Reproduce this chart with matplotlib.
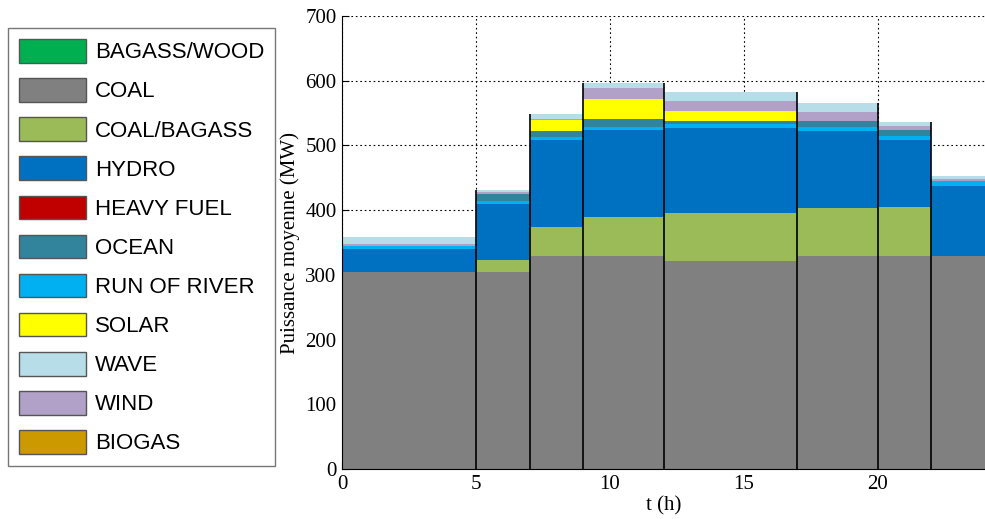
import matplotlib
matplotlib.use("Agg")
import matplotlib.pyplot as plt
import numpy as np
from matplotlib.patches import Patch

# Time blocks (h) and average power per source (MW) in each block
edges = [0, 5, 7, 9, 12, 17, 20, 22, 24]

coal        = [305.0, 305.0, 329.7, 329.7, 321.5, 329.7, 329.7, 329.7]
coal_bagass = [0.0, 18.0, 44.8, 60.3, 74.5, 73.3, 75.7, 0.0]
hydro       = [35.0, 86.6, 134.0, 134.0, 131.5, 119.9, 103.1, 108.2]
run_river   = [5.0, 5.1, 5.0, 5.0, 5.2, 6.1, 6.1, 7.2]
ocean       = [0.0, 10.3, 8.8, 11.4, 5.6, 9.3, 9.3, 0.0]
solar       = [0.0, 0.0, 17.0, 31.0, 15.4, 0.0, 0.0, 0.0]
wind        = [2.8, 3.6, 1.0, 17.0, 15.5, 12.9, 6.7, 3.1]
wave        = [11.2, 2.6, 8.6, 7.7, 12.8, 14.0, 5.2, 5.1]
bagass_wood = [0.0] * 8
heavy_fuel  = [0.0] * 8
biogas      = [0.0] * 8

legend_labels = ["BAGASS/WOOD", "COAL", "COAL/BAGASS", "HYDRO", "HEAVY FUEL",
                 "OCEAN", "RUN OF RIVER", "SOLAR", "WAVE", "WIND", "BIOGAS"]
legend_colors = ["#00B050", "#808080", "#9BBB59", "#0070C0", "#C00000",
                 "#31849B", "#00B0F0", "#FFFF00", "#B7DEE8", "#B1A0C7", "#CC9900"]
colors = dict(zip(legend_labels, legend_colors))

# stacking order, bottom to top
stack = [("BAGASS/WOOD", bagass_wood), ("COAL", coal), ("COAL/BAGASS", coal_bagass),
         ("HYDRO", hydro), ("HEAVY FUEL", heavy_fuel), ("RUN OF RIVER", run_river),
         ("OCEAN", ocean), ("SOLAR", solar), ("WIND", wind), ("WAVE", wave),
         ("BIOGAS", biogas)]

fig = plt.figure(figsize=(9.85, 5.19), dpi=100)
ax = fig.add_axes([342 / 985, 50 / 519, 643 / 985, 453 / 519])

base = np.zeros(len(edges) - 1)
for name, vals in stack:
    vals = np.asarray(vals, dtype=float)
    if vals.sum() > 0:
        ax.stairs(base + vals, edges, baseline=base.copy(), fill=True,
                  color=colors[name], linewidth=0, zorder=2)
    base = base + vals
total = base

# black separators between time blocks
for i in range(1, len(edges) - 1):
    ax.vlines(edges[i], 0, max(total[i - 1], total[i]), color="black",
              linewidth=1.2, zorder=3)

ax.set_xlim(0, 24)
ax.set_ylim(0, 700)
ax.set_xticks([0, 5, 10, 15, 20])
ax.set_yticks(range(0, 701, 100))
ax.grid(True, linestyle=(0, (1.5, 2.5)), color="black", linewidth=0.8, zorder=0)
ax.set_axisbelow(True)
for s in ("top", "right"):
    ax.spines[s].set_visible(False)
ax.tick_params(direction="in", length=5, labelsize=15, pad=4)
for lab in ax.get_xticklabels() + ax.get_yticklabels():
    lab.set_fontfamily("Liberation Serif")
ax.set_xlabel("t (h)", fontsize=15, family="Liberation Serif", labelpad=2)
ax.set_ylabel("Puissance moyenne (MW)", fontsize=15, family="Liberation Serif",
              labelpad=4)

handles = [Patch(facecolor=c, edgecolor="#555555", linewidth=1.0) for c in legend_colors]
leg = fig.legend(handles, legend_labels, loc="upper left",
                 bbox_to_anchor=(8 / 985, 1 - 28 / 519),
                 prop={"family": "Liberation Sans", "size": 16},
                 frameon=True, fancybox=False, edgecolor="#555555",
                 handlelength=3.0, handleheight=1.25, handletextpad=0.4,
                 labelspacing=0.67, borderpad=0.5, borderaxespad=0)
leg.get_frame().set_linewidth(1.0)

fig.savefig("out.png", dpi=100)
